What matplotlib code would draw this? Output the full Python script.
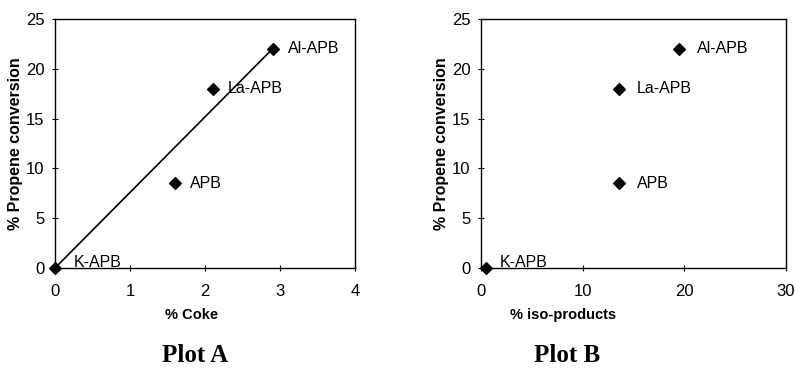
import numpy as np
import matplotlib
matplotlib.use("Agg")
import matplotlib.pyplot as plt

plt.rcParams['font.family'] = ['Liberation Sans', 'DejaVu Sans']

# data
labels = ["Al-APB", "La-APB", "APB", "K-APB"]
conversion = [22, 18, 8.5, 0]
coke = [2.9, 2.1, 1.6, 0]
iso_products = [19.5, 13.6, 13.6, 0.5]
fit_x = [0, 2.9]
fit_y = [0, 22]

fig = plt.figure(figsize=(7.95, 3.77), dpi=100)
W, H = 795, 377

def make_ax(x0, x1, y0, y1):
    return fig.add_axes([x0 / W, 1 - y1 / H, (x1 - x0) / W, (y1 - y0) / H])

axA = make_ax(55, 355, 19, 268)
axB = make_ax(481, 786, 19, 268)

def style(ax, xmax, xstep):
    ax.set_xlim(0, xmax)
    ax.set_ylim(0, 25)
    ax.set_xticks(np.arange(0, xmax + 0.1, xstep))
    ax.set_yticks(np.arange(0, 26, 5))
    ax.tick_params(direction='inout', length=5, width=0.8, labelsize=12)
    ax.tick_params(axis='x', pad=9)
    ax.tick_params(axis='y', pad=5)
    for s in ax.spines.values():
        s.set_linewidth(1.0)
    ax.set_ylabel("% Propene conversion", fontsize=11.5, fontweight='bold', labelpad=2)

style(axA, 4, 1)
style(axB, 30, 10)

axA.plot(fit_x, fit_y, color='black', lw=1.2, clip_on=False)
axA.scatter(coke, conversion, marker='D', s=36, color='black', zorder=5, clip_on=False)
axB.scatter(iso_products, conversion, marker='D', s=36, color='black', zorder=5, clip_on=False)

offA = [(0.2, 0), (0.2, 0), (0.2, 0), (0.25, 0.6)]
offB = [(1.7, 0), (1.7, 0), (1.7, 0), (1.3, 0.6)]
for lab, x, y, o in zip(labels, coke, conversion, offA):
    axA.text(x + o[0], y + o[1], lab, fontsize=11.5, va='center', ha='left')
for lab, x, y, o in zip(labels, iso_products, conversion, offB):
    axB.text(x + o[0], y + o[1], lab, fontsize=11.5, va='center', ha='left')

fig.text(192 / W, 1 - 315 / H, "% Coke", fontsize=10.5, fontweight='bold', ha='center', va='center')
fig.text(563 / W, 1 - 315 / H, "% iso-products", fontsize=10.5, fontweight='bold', ha='center', va='center')
fig.text(195 / W, 1 - 356 / H, "Plot A", fontsize=18, fontweight='bold', family='Liberation Serif', ha='center', va='center')
fig.text(567 / W, 1 - 356 / H, "Plot B", fontsize=18, fontweight='bold', family='Liberation Serif', ha='center', va='center')

fig.savefig("out.png", dpi=100)
